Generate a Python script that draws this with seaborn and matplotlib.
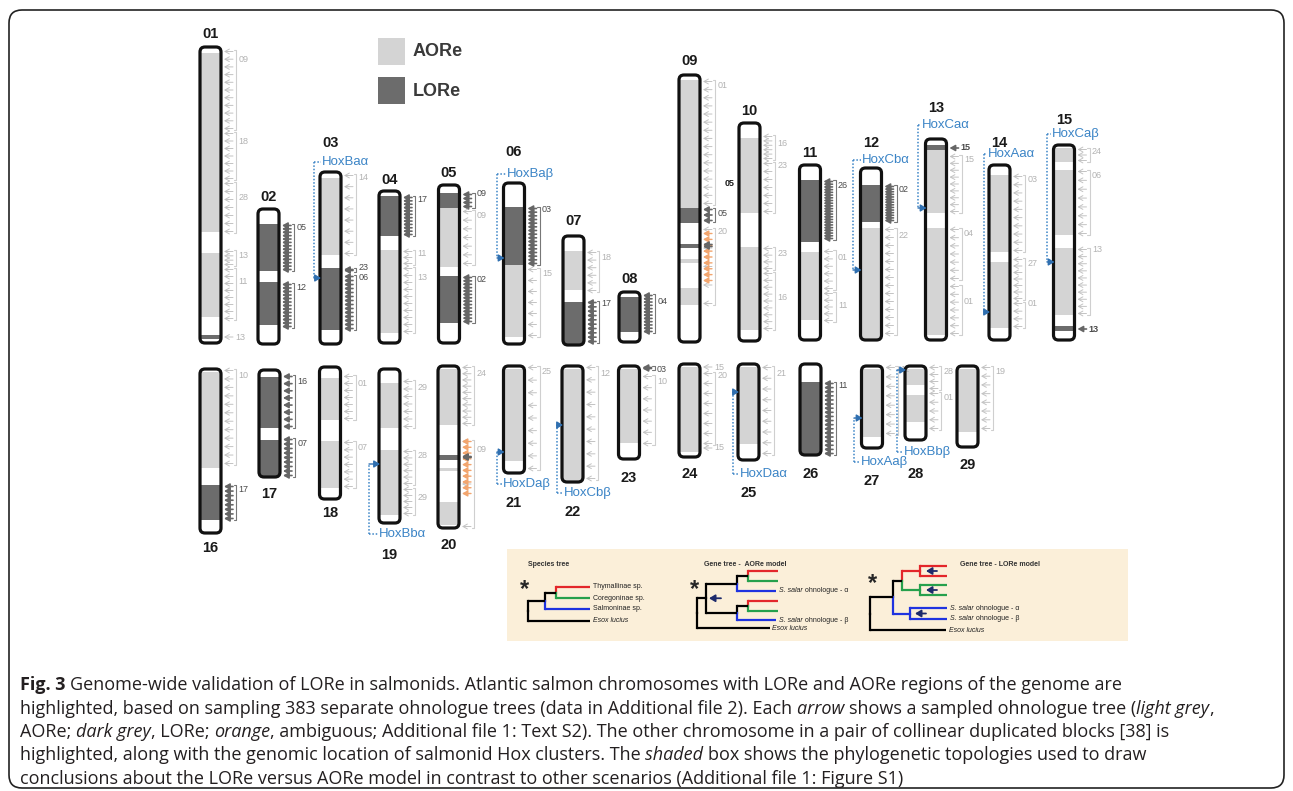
"""
Fig. 3 - Genome-wide validation of LORe in salmonids
Chromosome ideogram with AORe / LORe blocks, ohnologue arrows and Hox clusters
"""
import matplotlib
matplotlib.use("Agg")
import matplotlib.pyplot as plt
from matplotlib.patches import FancyBboxPatch, Rectangle
import numpy as np
import seaborn as sns

sns.set_theme(style="white")
plt.rcParams["font.family"] = ["Liberation Sans", "DejaVu Sans"]

LIGHT, DARK = sns.color_palette(["#d4d4d4", "#6c6c6c"])
ORANGE = "#f2a56e"
BLUE_HOX = "#3b84c6"
RED, GREEN, BLUE, NAVY = "#e3262a", "#26a04c", "#1f33e0", "#1d2a6b"

# ── chromosomes: id, centre x, top, bottom, label y ─────────────────────────
CHR_IDS = ["01", "02", "03", "04", "05", "06", "07", "08", "09", "10",
           "11", "12", "13", "14", "15",
           "16", "17", "18", "19", "20", "21", "22", "23", "24", "25",
           "26", "27", "28", "29"]
CHR_X = [210.5, 268.5, 330.5, 389.5, 449, 514, 573.5, 629.5, 689.5, 749.5,
         810, 871, 936, 999.5, 1064,
         210.5, 269.5, 330, 389.5, 448.5, 514, 572.5, 629, 689.5, 748.5,
         810.5, 872, 915.5, 967.5]
CHR_TOP = [47, 209, 172, 191, 185, 183, 236, 292, 75, 123,
           165, 168, 139, 165, 145,
           369, 370, 367, 369, 366, 366, 366, 366, 364, 364,
           364, 366, 366, 366]
CHR_BOT = [343, 344, 344, 343, 343, 344, 345, 342, 342, 341,
           340, 340, 340, 340, 340,
           533, 477, 499, 523, 528, 473, 482, 459, 457, 460,
           455, 448, 440, 447]
CHR_LABEL_Y = [34, 197, 143, 180, 173, 152, 221, 279, 61, 111,
               153, 143, 108, 143, 120,
               548, 494, 513, 555, 545, 503, 512, 478, 474, 493,
               474, 481, 474, 465]
CHR_W = 21

# ── AORe (L) / LORe (D) blocks along each chromosome ────────────────────────
SEGMENTS = [
    ("01", 53, 232, "L"), ("01", 253, 317, "L"), ("01", 335, 339, "D"),
    ("02", 224, 271, "D"), ("02", 282, 325, "D"),
    ("03", 178, 255, "L"), ("03", 268, 330, "D"),
    ("04", 196, 236, "D"), ("04", 250, 333, "L"),
    ("05", 193, 208, "D"), ("05", 208, 267, "L"), ("05", 276, 323, "D"),
    ("06", 207, 265, "D"), ("06", 265, 337, "L"),
    ("07", 251, 290, "L"), ("07", 302, 345, "D"),
    ("08", 297, 332, "D"),
    ("09", 80, 208, "L"), ("09", 208, 223, "D"), ("09", 244, 248, "D"),
    ("09", 259, 263, "L"), ("09", 288, 305, "L"),
    ("10", 138, 213, "L"), ("10", 247, 330, "L"),
    ("11", 180, 242, "D"), ("11", 252, 320, "L"),
    ("12", 185, 222, "D"), ("12", 228, 340, "L"),
    ("13", 145, 150, "D"), ("13", 150, 213, "L"), ("13", 228, 335, "L"),
    ("14", 175, 252, "L"), ("14", 262, 328, "L"),
    ("15", 148, 162, "L"), ("15", 170, 235, "L"), ("15", 248, 315, "L"),
    ("15", 326, 331, "D"),
    ("16", 372, 468, "L"), ("16", 485, 520, "D"),
    ("17", 377, 428, "D"), ("17", 440, 477, "D"),
    ("18", 378, 420, "L"), ("18", 441, 488, "L"),
    ("19", 383, 428, "L"), ("19", 450, 515, "L"),
    ("20", 369, 425, "L"), ("20", 455, 460, "D"), ("20", 468, 471, "L"),
    ("20", 502, 525, "L"),
    ("21", 369, 461, "L"), ("22", 369, 482, "L"), ("23", 369, 443, "L"),
    ("24", 367, 452, "L"), ("25", 367, 444, "L"), ("26", 382, 455, "D"),
    ("27", 369, 437, "L"), ("28", 369, 385, "L"), ("28", 395, 422, "L"),
    ("29", 369, 432, "L"),
]

# ── sampled ohnologue trees: chrom, y from, y to, n arrows, kind, label, label y
ARROW_GROUPS = [
    ("01", 50, 130, 11, "L", "09", 59), ("01", 132, 180, 7, "L", "18", 142),
    ("01", 182, 233, 7, "L", "28", 198), ("01", 250, 266, 4, "L", "13", 255),
    ("01", 268, 320, 8, "L", "11", 282), ("01", 337, 337, 1, "L", "13", 337),
    ("02", 224, 271, 14, "D", "05", 227), ("02", 283, 328, 13, "D", "12", 288),
    ("03", 174, 255, 8, "L", "14", 177), ("03", 268, 272, 2, "D", "23", 268),
    ("03", 275, 330, 14, "D", "06", 278),
    ("04", 196, 236, 12, "D", "17", 200), ("04", 250, 265, 3, "L", "11", 253),
    ("04", 267, 333, 10, "L", "13", 277),
    ("05", 193, 208, 4, "D", "09", 193), ("05", 210, 265, 7, "L", "09", 215),
    ("05", 276, 323, 14, "D", "02", 279),
    ("06", 207, 265, 16, "D", "03", 210), ("06", 268, 337, 7, "L", "15", 274),
    ("07", 251, 292, 6, "L", "18", 257), ("07", 301, 343, 10, "D", "17", 304),
    ("08", 294, 333, 12, "D", "04", 301),
    ("09", 80, 205, 16, "L", "01", 85), ("09", 208, 222, 3, "D", "05", 213),
    ("09", 228, 305, 5, "L", "20", 232), ("09", 232, 282, 9, "O", "", 0),
    ("09", 243, 248, 2, "D", "", 0),
    ("10", 135, 160, 6, "L", "16", 143), ("10", 162, 213, 7, "L", "23", 165),
    ("10", 247, 270, 4, "L", "23", 253), ("10", 272, 330, 9, "L", "16", 297),
    ("11", 180, 240, 22, "D", "26", 185), ("11", 250, 290, 6, "L", "01", 257),
    ("11", 292, 322, 5, "L", "11", 305),
    ("12", 185, 222, 14, "D", "02", 190), ("12", 228, 335, 14, "L", "22", 235),
    ("13", 148, 148, 1, "D", "15", 148), ("13", 155, 213, 9, "L", "15", 160),
    ("13", 228, 280, 7, "L", "04", 233), ("13", 285, 335, 7, "L", "01", 302),
    ("14", 175, 252, 10, "L", "03", 179), ("14", 258, 300, 7, "L", "27", 263),
    ("14", 302, 328, 4, "L", "01", 303),
    ("15", 148, 162, 3, "L", "24", 151), ("15", 170, 235, 8, "L", "06", 175),
    ("15", 248, 315, 10, "L", "13", 250), ("15", 329, 329, 1, "D", "13", 329),
    ("16", 369, 465, 12, "L", "10", 375), ("16", 485, 520, 8, "D", "17", 490),
    ("17", 375, 428, 8, "D", "16", 382), ("17", 438, 477, 9, "D", "07", 444),
    ("18", 375, 420, 7, "L", "01", 383), ("18", 441, 488, 7, "L", "07", 448),
    ("19", 380, 428, 7, "L", "29", 388), ("19", 450, 485, 6, "L", "28", 455),
    ("19", 488, 515, 5, "L", "29", 497),
    ("20", 366, 425, 10, "L", "24", 374), ("20", 440, 528, 3, "L", "09", 449),
    ("20", 440, 495, 10, "O", "", 0), ("20", 455, 459, 3, "D", "", 0),
    ("21", 366, 470, 9, "L", "25", 372), ("22", 366, 480, 10, "L", "12", 373),
    ("23", 366, 370, 2, "D", "03", 369), ("23", 375, 445, 7, "L", "10", 381),
    ("24", 367, 367, 1, "L", "15", 367), ("24", 372, 445, 8, "L", "20", 375),
    ("24", 448, 448, 1, "L", "15", 448),
    ("25", 366, 455, 9, "L", "21", 373), ("26", 382, 455, 18, "D", "11", 385),
    ("27", 366, 435, 8, "L", "11", 369),
    ("28", 366, 390, 4, "L", "28", 372), ("28", 392, 430, 5, "L", "01", 398),
    ("29", 366, 430, 8, "L", "19", 372),
]

# ── Hox clusters: chrom, name, label x, label y, guide x, arrow y ────────────
HOX = [
    ("03", "HoxBaα", 322, 162, 314, 278), ("06", "HoxBaβ", 507, 174, 497, 258),
    ("12", "HoxCbα", 862, 160, 853, 270), ("13", "HoxCaα", 922, 125, 918, 208),
    ("14", "HoxAaα", 988, 154, 984, 312), ("15", "HoxCaβ", 1052, 134, 1047, 262),
    ("19", "HoxBbα", 379, 534, 369, 464), ("21", "HoxDaβ", 503, 484, 497, 452),
    ("22", "HoxCbβ", 564, 493, 557, 425), ("25", "HoxDaα", 740, 474, 733, 392),
    ("27", "HoxAaβ", 861, 462, 854, 418), ("28", "HoxBbβ", 904, 452, 897, 370),
]

# ── inset trees: tip heights ────────────────────────────────────────────────
SP_TIPS_Y = [587, 598, 609, 621]
SP_LABELS = ["Thymallinae sp.", "Coregoninae sp.", "Salmoninae sp.", "Esox lucius"]
AO_TIPS_Y = [571, 581, 591, 601, 611, 620, 628]
LO_TIPS_Y = [566, 576, 585, 595, 608, 619, 630]

CAPTION = [
    [("Fig. 3 ", "bold", "normal"),
     ("Genome-wide validation of LORe in salmonids. Atlantic salmon chromosomes "
      "with LORe and AORe regions of the genome are", "normal", "normal")],
    [("highlighted, based on sampling 383 separate ohnologue trees (data in "
      "Additional file 2). Each ", "normal", "normal"),
     ("arrow ", "normal", "italic"),
     ("shows a sampled ohnologue tree (", "normal", "normal"),
     ("light grey", "normal", "italic"), (",", "normal", "normal")],
    [("AORe; ", "normal", "normal"), ("dark grey", "normal", "italic"),
     (", LORe; ", "normal", "normal"), ("orange", "normal", "italic"),
     (", ambiguous; Additional file 1: Text S2). The other chromosome in a pair "
      "of collinear duplicated blocks [38] is", "normal", "normal")],
    [("highlighted, along with the genomic location of salmonid Hox clusters. "
      "The ", "normal", "normal"), ("shaded ", "normal", "italic"),
     ("box shows the phylogenetic topologies used to draw", "normal", "normal")],
    [("conclusions about the LORe versus AORe model in contrast to other "
      "scenarios (Additional file 1: Figure S1)", "normal", "normal")],
]
CAPTION_Y = [685, 708.5, 732, 755.5, 779]

# ── figure ──────────────────────────────────────────────────────────────────
fig = plt.figure(figsize=(12.93, 7.91), dpi=100)
ax = fig.add_axes([0, 0, 1, 1])
ax.set_xlim(0, 1293)
ax.set_ylim(791, 0)
ax.axis("off")
renderer = fig.canvas.get_renderer()

ax.add_patch(FancyBboxPatch((9, 10), 1275, 778, boxstyle="round,pad=0,rounding_size=13",
                            fc="none", ec="#222222", lw=1.2, zorder=1))


def geom(cid):
    i = CHR_IDS.index(cid)
    return CHR_X[i] - CHR_W / 2, CHR_X[i] + CHR_W / 2, CHR_TOP[i], CHR_BOT[i]


# chromosomes
for i, cid in enumerate(CHR_IDS):
    x0, x1, top, bot = geom(cid)
    body = FancyBboxPatch((x0, top), x1 - x0, bot - top,
                          boxstyle="round,pad=0,rounding_size=5", fc="white", ec="none", zorder=2)
    ax.add_patch(body)
    for c, s0, s1, kind in SEGMENTS:
        if c != cid:
            continue
        r = Rectangle((x0, s0), x1 - x0, s1 - s0, fc=LIGHT if kind == "L" else DARK,
                      ec="none", zorder=3)
        ax.add_patch(r)
        r.set_clip_path(body)
    ax.add_patch(FancyBboxPatch((x0, top), x1 - x0, bot - top,
                                boxstyle="round,pad=0,rounding_size=5", fc="none",
                                ec="#111111", lw=2.3, zorder=4))
    ax.text(CHR_X[i], CHR_LABEL_Y[i], cid, ha="center", va="center",
            fontsize=10.5, fontweight="bold", color="#1a1a1a", zorder=5)

# arrows and brackets
ARROW_STYLE = {
    "L": dict(color="#c3c3c3", lw=0.7, style="->,head_length=0.45,head_width=0.25"),
    "D": dict(color="#666666", lw=1.2, style="-|>,head_length=0.45,head_width=0.25"),
    "O": dict(color=ORANGE, lw=1.0, style="-|>,head_length=0.45,head_width=0.25"),
}
for cid, y0, y1, n, kind, lab, ly in ARROW_GROUPS:
    x0, x1, top, bot = geom(cid)
    st = ARROW_STYLE[kind]
    tip, tail = x1 + 3, x1 + 12
    ys = np.linspace(y0 + 1.5, y1 - 1.5, n) if n > 1 else [y0]
    for y in ys:
        ax.annotate("", xy=(tip, y), xytext=(tail, y), zorder=4,
                    arrowprops=dict(arrowstyle=st["style"], color=st["color"], lw=st["lw"],
                                    shrinkA=0, shrinkB=0, mutation_scale=7))
    if not lab:
        continue
    lab_col = "#b3b3b3" if kind == "L" else "#4a4a4a"
    if y1 - y0 < 1:
        ax.text(tail + 2, ly, lab, fontsize=6.5, va="center", color=lab_col,
                fontweight="bold" if kind == "D" else "normal")
        continue
    bx = x1 + 15
    ax.plot([bx - 2.5, bx, bx, bx - 2.5], [y0, y0, y1, y1],
            color="#cfcfcf" if kind == "L" else "#777777", lw=0.8, zorder=4)
    ax.text(bx + 2.5, ly, lab, fontsize=6.5, va="center", color=lab_col)

# chromosome 09 partner label
ax.text(725, 183, "05", fontsize=6.5, fontweight="bold", va="center", color="#1a1a1a")

# Hox clusters
for cid, name, lx, ly, gx, ay in HOX:
    x0, x1, top, bot = geom(cid)
    ax.plot([gx, gx], [ly, ay], ls=(0, (1, 1.2)), color=BLUE_HOX, lw=1.1, zorder=5)
    ax.plot([gx, lx - 1], [ly, ly], ls=(0, (1, 1.2)), color=BLUE_HOX, lw=1.1, zorder=5)
    ax.annotate("", xy=(x0 + 1, ay), xytext=(gx, ay), zorder=6,
                arrowprops=dict(arrowstyle="-|>,head_length=0.5,head_width=0.3",
                                color="#2f6fb0", lw=1.0, shrinkA=0, shrinkB=0,
                                mutation_scale=7))
    ax.text(lx, ly, name, fontsize=9.5, va="center", ha="left", color=BLUE_HOX, zorder=6)

# legend
for (y, col, name) in [(38, LIGHT, "AORe"), (77, DARK, "LORe")]:
    ax.add_patch(Rectangle((378, y), 27, 27, fc=col, ec="none"))
    ax.text(413, y + 14, name, fontsize=13, fontweight="bold", va="center", color="#3a3a3a")

# ── inset with species / gene trees ─────────────────────────────────────────
ax.add_patch(Rectangle((507, 549), 621, 92, fc="#fbefd9", ec="none", zorder=1))
for x, t in [(549, "Species tree"), (745, "Gene tree -  AORe model"),
             (1000, "Gene tree - LORe model")]:
    ax.text(x, 564, t, fontsize=5, fontweight="bold", ha="center", va="center", color="#333333")


def tip(y, col, xend):
    return ("tip", y, col, xend)


def node(x, *kids):
    return ("node", x, kids)


def draw_tree(n):
    """Draw node n and return (y, colour, x where its stem ends)."""
    if n[0] == "tip":
        return n[1], n[2], n[3]
    x, kids = n[1], n[2]
    res = [draw_tree(k) for k in kids]
    ys = [r[0] for r in res]
    mid = (min(ys) + max(ys)) / 2
    for ky, kc, kx in res:
        ax.plot([x, kx], [ky, ky], color=kc, lw=1.6, solid_capstyle="butt", zorder=3)
        ax.plot([x, x], [mid, ky], color=kc, lw=1.6, solid_capstyle="projecting", zorder=3)
    cols = {r[1] for r in res}
    return mid, (cols.pop() if len(cols) == 1 else "black"), x


y = SP_TIPS_Y
species = node(528, node(545, node(556, tip(y[0], RED, 590), tip(y[1], GREEN, 590)),
                         tip(y[2], BLUE, 590)), tip(y[3], "black", 590))
draw_tree(species)
for yy, lab in zip(SP_TIPS_Y, SP_LABELS):
    ax.text(593, yy, lab, fontsize=5, va="center", color="#222222",
            fontstyle="italic" if lab.startswith("Esox") else "normal")
ax.text(525, 590, "*", fontsize=17, fontweight="bold", ha="center", va="center")

y = AO_TIPS_Y
aore = node(697,
            node(706,
                 node(737, node(748, tip(y[0], RED, 778), tip(y[1], GREEN, 778)), tip(y[2], BLUE, 776)),
                 node(737, node(748, tip(y[3], RED, 778), tip(y[4], GREEN, 778)), tip(y[5], BLUE, 776))),
            tip(y[6], "black", 770))
draw_tree(aore)
dup_mid = ((y[0] + y[1]) / 2 + y[2]) / 4 + ((y[3] + y[4]) / 2 + y[5]) / 4
ax.annotate("", xy=(709, dup_mid), xytext=(721, dup_mid),
            arrowprops=dict(arrowstyle="-|>,head_length=0.5,head_width=0.3", color=NAVY,
                            lw=1.3, shrinkA=0, shrinkB=0, mutation_scale=7), zorder=5)
ax.text(694, 590, "*", fontsize=17, fontweight="bold", ha="center", va="center")

y = LO_TIPS_Y
lore = node(870,
            node(893,
                 node(902, node(920, tip(y[0], RED, 947), tip(y[1], RED, 947)),
                      node(920, tip(y[2], GREEN, 947), tip(y[3], GREEN, 947))),
                 node(910, tip(y[4], BLUE, 947), tip(y[5], BLUE, 947))),
            tip(y[6], "black", 946))
draw_tree(lore)
for (ya, yb, xa) in [(y[0], y[1], 926), (y[2], y[3], 926), (y[4], y[5], 915)]:
    ax.annotate("", xy=(xa, (ya + yb) / 2), xytext=(xa + 11, (ya + yb) / 2), zorder=5,
                arrowprops=dict(arrowstyle="-|>,head_length=0.5,head_width=0.3", color=NAVY,
                                lw=1.3, shrinkA=0, shrinkB=0, mutation_scale=7))
ax.text(872, 584, "*", fontsize=17, fontweight="bold", ha="center", va="center")


def rich_line(x, yy, pieces, size, family, color):
    """Lay out text pieces of mixed weight/style one after another."""
    for s, w, st in pieces:
        kw = dict(fontsize=size, fontweight=w, fontstyle=st, family=family)
        ax.text(x, yy, s, va="center", ha="left", color=color, **kw)
        t1 = ax.text(0, 0, s + "|", **kw)
        t2 = ax.text(0, 0, "|", **kw)
        x += t1.get_window_extent(renderer).width - t2.get_window_extent(renderer).width
        t1.remove()
        t2.remove()


# tree tip labels with italic species names
for xx, yy, kind in [(779, AO_TIPS_Y[2], "α"), (779, AO_TIPS_Y[5], "β"),
                     (950, LO_TIPS_Y[4], "α"), (950, LO_TIPS_Y[5], "β")]:
    rich_line(xx, yy, [("S. salar ", "normal", "italic"),
                       ("ohnologue - " + kind, "normal", "normal")],
              5, ["Liberation Sans", "DejaVu Sans"], "#222222")
ax.text(772, AO_TIPS_Y[6], "Esox lucius", fontsize=5, va="center", fontstyle="italic", color="#222222")
ax.text(949, LO_TIPS_Y[6], "Esox lucius", fontsize=5, va="center", fontstyle="italic", color="#222222")

# caption
for pieces, yy in zip(CAPTION, CAPTION_Y):
    rich_line(20, yy, pieces, 13, ["Open Sans", "DejaVu Sans"], "#231f20")

fig.savefig("out.png", dpi=100, facecolor="white")
